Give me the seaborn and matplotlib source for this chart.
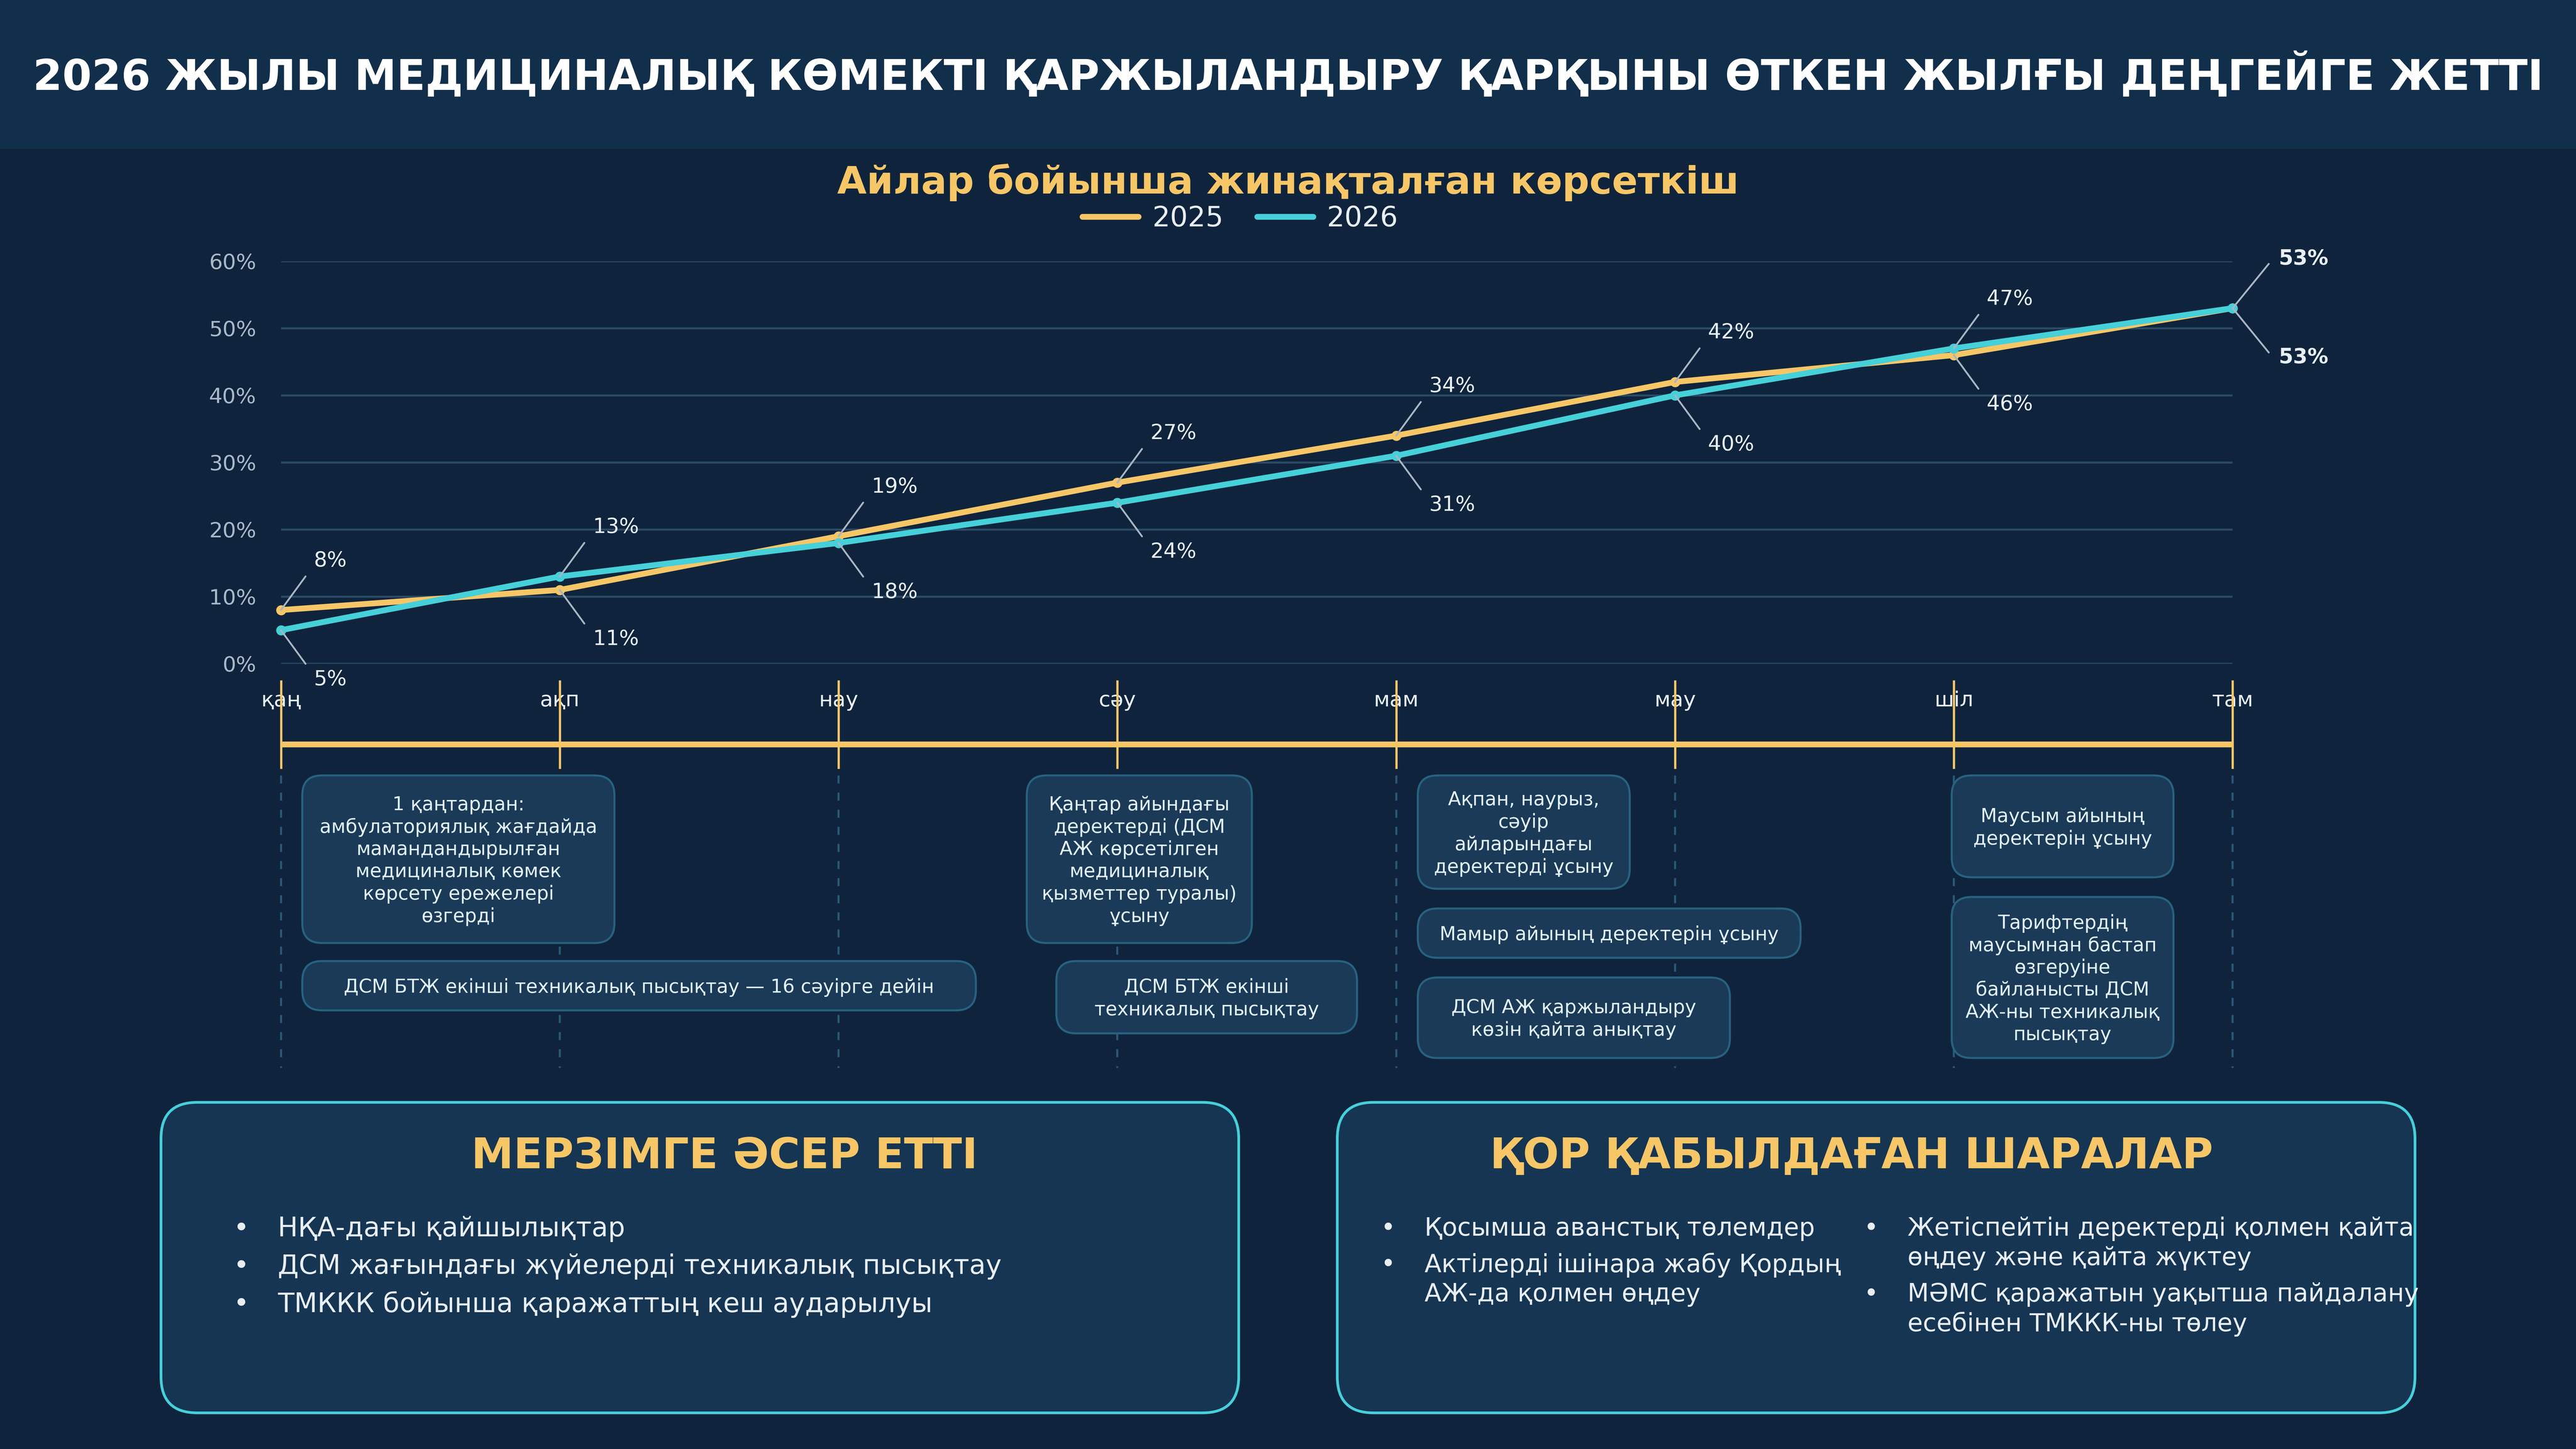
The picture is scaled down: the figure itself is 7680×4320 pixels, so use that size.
import numpy as np
import pandas as pd
import matplotlib
matplotlib.use('Agg')
import matplotlib.pyplot as plt
from matplotlib.patches import FancyBboxPatch, Rectangle
from matplotlib.lines import Line2D
import seaborn as sns

# -------------------------
# Data
# -------------------------
months = ['қаң', 'ақп', 'нау', 'сәу', 'мам', 'мау', 'шіл', 'там']
share_2025 = [8, 11, 19, 27, 34, 42, 46, 53]
share_2026 = [5, 13, 18, 24, 31, 40, 47, 53]
years = ['2025', '2026']
y_ticks = [0, 10, 20, 30, 40, 50, 60]

title = '2026 ЖЫЛЫ МЕДИЦИНАЛЫҚ КӨМЕКТІ ҚАРЖЫЛАНДЫРУ ҚАРҚЫНЫ ӨТКЕН ЖЫЛҒЫ ДЕҢГЕЙГЕ ЖЕТТІ'
subtitle = 'Айлар бойынша жинақталған көрсеткіш'

notes = [
    '1 қаңтардан:\nамбулаториялық жағдайда\nмамандандырылған\nмедициналық көмек\nкөрсету ережелері\nөзгерді',
    'ДСМ БТЖ екінші техникалық пысықтау — 16 сәуірге дейін',
    'Қаңтар айындағы\nдеректерді (ДСМ\nАЖ көрсетілген\nмедициналық\nқызметтер туралы)\nұсыну',
    'ДСМ БТЖ екінші\nтехникалық пысықтау',
    'Ақпан, наурыз,\nсәуір\nайларындағы\nдеректерді ұсыну',
    'Мамыр айының деректерін ұсыну',
    'ДСМ АЖ қаржыландыру\nкөзін қайта анықтау',
    'Маусым айының\nдеректерін ұсыну',
    'Тарифтердің\nмаусымнан бастап\nөзгеруіне\nбайланысты ДСМ\nАЖ-ны техникалық\nпысықтау',
]

left_title = 'МЕРЗІМГЕ ӘСЕР ЕТТІ'
left_items = [
    'НҚА-дағы қайшылықтар',
    'ДСМ жағындағы жүйелерді техникалық пысықтау',
    'ТМККК бойынша қаражаттың кеш аударылуы',
]
right_title = 'ҚОР ҚАБЫЛДАҒАН ШАРАЛАР'
right_col1 = [
    'Қосымша аванстық төлемдер',
    'Актілерді ішінара жабу Қордың\nАЖ-да қолмен өңдеу',
]
right_col2 = [
    'Жетіспейтін деректерді қолмен қайта\nөңдеу және қайта жүктеу',
    'МӘМС қаражатын уақытша пайдалану\nесебінен ТМККК-ны төлеу',
]

# -------------------------
# Layout (reference pixels on a 1568 x 882 canvas)
# -------------------------
W, H = 1568, 882
note_boxes = [
    (184, 472, 374, 574), (184, 585, 594, 615), (625, 472, 762, 574),
    (643, 585, 826, 629), (863, 472, 992, 541), (863, 553, 1096, 583),
    (863, 595, 1053, 644), (1188, 472, 1323, 534), (1188, 546, 1323, 644),
]
left_ys = [748, 771, 794]
col1_ys = [748, 770]
col2_ys = [748, 788]

BG = '#0f243c'
HEADER = '#112e4b'
ORANGE = '#f6c667'
CYAN = '#45d0da'
GRID = '#2b4a66'
TEXT = '#e8eef5'
MUTED = '#a9b8c8'
LEADER = '#a8b5c3'
BOX_FILL = '#1b3a58'
BOX_EDGE = '#27627f'
DASH = '#2a5878'
PANEL_FILL = '#153552'
NOTE_TEXT = '#e2f1f8'

sns.set_theme(style='dark')
plt.rcParams['font.family'] = ['DejaVu Sans']

PT = 72 / 98  # reference pixel -> points

fig = plt.figure(figsize=(16, 9), dpi=480, facecolor=BG)

# overlay in reference pixel coordinates
ov = fig.add_axes([0, 0, 1, 1], zorder=0)
ov.set_xlim(0, W)
ov.set_ylim(H, 0)
ov.axis('off')
ov.add_patch(Rectangle((0, 0), W, 90.6, color=HEADER, lw=0))
ov.text(784, 46, title, color='white', fontsize=18.9, fontweight='bold',
        ha='center', va='center')
ov.text(784, 111, subtitle, color=ORANGE, fontsize=17, fontweight='bold',
        ha='center', va='center')

# -------------------------
# Line chart
# -------------------------
df = pd.DataFrame({
    'pos': list(range(len(months))) * 2,
    'value': share_2025 + share_2026,
    'year': [years[0]] * len(months) + [years[1]] * len(months),
})

ax = fig.add_axes([171 / W, 1 - 404 / H, 1188 / W, 245 / H], zorder=2)
ax.set_facecolor('none')
sns.lineplot(data=df, x='pos', y='value', hue='year', palette=[ORANGE, CYAN],
             marker='o', markersize=4.5, linewidth=2.6, markeredgewidth=0,
             legend=False, sort=False, ax=ax)
for line in ax.lines:
    line.set_clip_on(False)

ax.set_xlim(0, len(months) - 1)
ax.set_ylim(0, 60)
ax.set_yticks(y_ticks)
ax.set_yticklabels([f'{t}%' for t in y_ticks])
ax.set_xticks(range(len(months)))
ax.set_xticklabels(months)
ax.set_xlabel('')
ax.set_ylabel('')
ax.grid(False)
ax.yaxis.grid(True, color=GRID, lw=0.9)
for s in ax.spines.values():
    s.set_visible(False)
ax.tick_params(axis='y', length=0, pad=11, labelcolor=MUTED, labelsize=9.5)
ax.tick_params(axis='x', length=0, pad=12, labelcolor=TEXT, labelsize=9.5)

# value labels with leader lines
for i, (v25, v26) in enumerate(zip(share_2025, share_2026)):
    last = i == len(months) - 1
    hi, lo = max(v25, v26), min(v25, v26)
    for v, sgn in ((hi, 1), (lo, -1)):
        lead = (22, 27) if last else (15, 20.5)
        off = (28, 30) if last else (20, 30)
        ax.annotate('', xy=(i, v), xytext=(lead[0] * PT, sgn * lead[1] * PT),
                    textcoords='offset points', annotation_clip=False,
                    arrowprops=dict(arrowstyle='-', color=LEADER, lw=0.8,
                                    shrinkA=0, shrinkB=0))
        ax.annotate(f'{v}%', xy=(i, v), xytext=(off[0] * PT, sgn * off[1] * PT),
                    textcoords='offset points', ha='left', va='center',
                    color=TEXT, fontsize=9.3, annotation_clip=False,
                    fontweight='bold' if last else 'normal')

handles = [Line2D([], [], color=c, lw=2.6) for c in (ORANGE, CYAN)]
fig.legend(handles, years, loc='center', bbox_to_anchor=(755 / W, 1 - 133 / H),
           ncol=2, frameon=False, fontsize=12.5, labelcolor=TEXT,
           handlelength=2, handletextpad=0.5, columnspacing=1.2)

# -------------------------
# Timeline
# -------------------------
ax2 = fig.add_axes([171 / W, 1 - 655 / H, 1188 / W, (655 - 410) / H], zorder=3)
ax2.set_xlim(0, len(months) - 1)
ax2.set_ylim(655, 410)
ax2.axis('off')
pos = np.arange(len(months))
ax2.vlines(pos, 472, 650, color=DASH, lw=0.9, linestyles=(0, (4, 4.5)), clip_on=False)
ax2.vlines(pos, 414, 468, color=ORANGE, lw=1.0, clip_on=False)
ax2.hlines(453, 0, len(months) - 1, color=ORANGE, lw=2.6, clip_on=False)

for note, (x0, y0, x1, y1) in zip(notes, note_boxes):
    ax2.add_patch(FancyBboxPatch((x0, y0), x1 - x0, y1 - y0,
                                 boxstyle='round,pad=0,rounding_size=12',
                                 transform=ov.transData, fc=BOX_FILL,
                                 ec=BOX_EDGE, lw=0.9, clip_on=False, zorder=5))
    rows = note.split('\n')
    yc = (y0 + y1) / 2 + 1
    top = yc - 13.6 * (len(rows) - 1) / 2
    for k, row in enumerate(rows):
        ax2.text((x0 + x1) / 2, top + k * 13.6, row, transform=ov.transData,
                 ha='center', va='center', color=NOTE_TEXT, fontsize=8.5,
                 zorder=6, clip_on=False)

# -------------------------
# Bottom panels
# -------------------------
for (x0, x1) in ((98, 754), (814, 1470)):
    ov.add_patch(FancyBboxPatch((x0, 671), x1 - x0, 189,
                                boxstyle='round,pad=0,rounding_size=22',
                                fc=PANEL_FILL, ec=CYAN, lw=1.2))

ov.text(441, 704, left_title, color=ORANGE, fontsize=19, fontweight='bold',
        ha='center', va='center')
ov.text(1127, 704, right_title, color=ORANGE, fontsize=19, fontweight='bold',
        ha='center', va='center')


def bullets(items, ys, bx, tx, size, pitch=18):
    for item, y0 in zip(items, ys):
        ov.text(bx, y0, '•', color=TEXT, fontsize=size, ha='center', va='center')
        for k, row in enumerate(item.split('\n')):
            ov.text(tx, y0 + k * pitch, row, color=TEXT, fontsize=size,
                    ha='left', va='center')


bullets(left_items, left_ys, 147, 169, 12)
bullets(right_col1, col1_ys, 845, 867, 11.1)
bullets(right_col2, col2_ys, 1139, 1161, 11.1)

fig.savefig('out.png', dpi=480, facecolor=BG)
